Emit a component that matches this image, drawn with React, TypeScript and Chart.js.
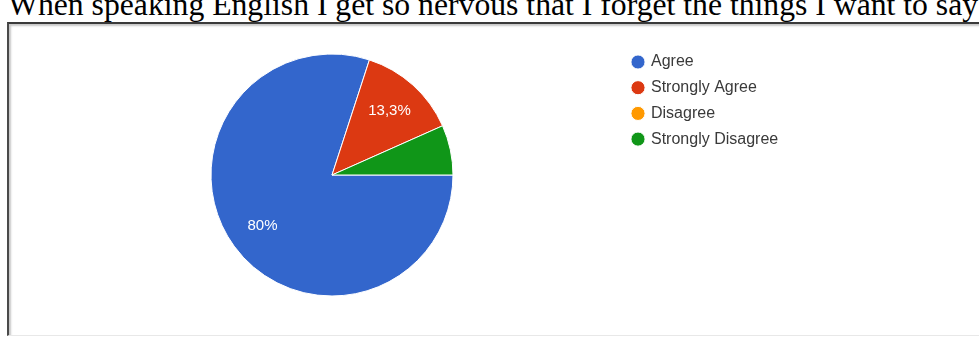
import React, { useEffect, useRef } from "react";
import { Chart, registerables } from "chart.js";

Chart.register(...registerables);

const TITLE = "When speaking English I get so nervous that I forget the things I want to say";
const categories = ["Agree", "Strongly Agree", "Disagree", "Strongly Disagree"];
const responses = [12, 2, 0, 1];
const sliceColors = ["#3366cc", "#dc3912", "#ff9900", "#109618"];

const W = 979;
const H = 337;
const PIE_CX = 332;
const PIE_CY = 175;
const PIE_R = 121;
const LEGEND_FONT = 16;
const LEGEND_PAD = 9.7;
const LEGEND_BOX = 10;
const LEGEND_DOT_X = 638;
const LEGEND_FIRST_Y = 62;

function fmtPct(frac: number): string {
  const v = Math.round(frac * 1000) / 10;
  return (Number.isInteger(v) ? String(v) : v.toFixed(1)).replace(".", ",") + "%";
}

const sliceLabels = {
  id: "sliceLabels",
  afterDatasetsDraw(chart: any) {
    const meta = chart.getDatasetMeta(0);
    const data = chart.data.datasets[0].data as number[];
    const total = data.reduce((a, b) => a + b, 0);
    const ctx = chart.ctx;
    ctx.save();
    ctx.font = "15px Arial, 'Liberation Sans', sans-serif";
    ctx.fillStyle = "#ffffff";
    ctx.textAlign = "center";
    ctx.textBaseline = "middle";
    meta.data.forEach((arc: any, i: number) => {
      const frac = data[i] / total;
      if (frac < 0.1) return;
      const p = arc.getProps(["x", "y", "startAngle", "endAngle", "outerRadius"], true);
      const mid = (p.startAngle + p.endAngle) / 2;
      const r = p.outerRadius * 0.71;
      ctx.fillText(fmtPct(frac), p.x + Math.cos(mid) * r, p.y + Math.sin(mid) * r);
    });
    ctx.restore();
  },
};

export default function App() {
  const ref = useRef<HTMLCanvasElement | null>(null);

  useEffect(() => {
    if (!ref.current) return;
    const chartRight = LEGEND_DOT_X - LEGEND_PAD - LEGEND_BOX / 2;
    const chartLeft = 2 * PIE_CX - chartRight;
    const top = LEGEND_FIRST_Y - LEGEND_PAD - LEGEND_FONT / 2;
    const bottom = H - (2 * PIE_CY - top);
    const chart = new Chart(ref.current, {
      type: "pie",
      data: {
        labels: categories,
        datasets: [
          {
            data: responses,
            backgroundColor: sliceColors,
            borderColor: "#ffffff",
            borderWidth: 1,
            radius: PIE_R,
          } as any,
        ],
      },
      options: {
        responsive: false,
        maintainAspectRatio: false,
        animation: false,
        rotation: 90,
        layout: { padding: { top, bottom, left: chartLeft, right: 200 } },
        plugins: {
          legend: {
            position: "right",
            align: "start",
            labels: {
              usePointStyle: true,
              pointStyle: "circle",
              boxWidth: LEGEND_BOX,
              boxHeight: LEGEND_BOX,
              padding: LEGEND_PAD,
              color: "#3a3a3a",
              font: { family: "Arial, 'Liberation Sans', sans-serif", size: LEGEND_FONT },
            },
          },
          tooltip: { enabled: false },
        },
      } as any,
      plugins: [sliceLabels],
    });
    const lw = chart.legend ? chart.legend.width : 150;
    (chart.options.layout as any).padding.right = W - chartRight - lw;
    chart.update();
    return () => chart.destroy();
  }, []);

  return (
    <div
      style={{
        position: "absolute",
        left: 0,
        top: 0,
        width: W,
        height: H,
        overflow: "hidden",
        background: "#ffffff",
      }}
    >
      <div
        style={{
          position: "absolute",
          left: 8,
          top: 16 - 28.7,
          fontFamily: "'Liberation Serif', 'Times New Roman', serif",
          fontSize: "31.7px",
          lineHeight: "36px",
          whiteSpace: "nowrap",
          color: "#000",
        }}
      >
        {TITLE}
      </div>
      <div
        style={{
          position: "absolute",
          left: 7,
          top: 22,
          width: W + 20,
          height: H - 22 - 1,
          boxSizing: "border-box",
          borderLeft: "2px solid #4a4a4a",
          borderTop: "2px solid #3a3a3a",
          borderBottom: "1px solid #e8e8e8",
          boxShadow: "inset 2px 2px 2px #c8c8c8",
        }}
      />
      <canvas
        ref={ref}
        width={W}
        height={H}
        style={{ position: "absolute", left: 0, top: 0, width: W, height: H }}
      />
    </div>
  );
}
